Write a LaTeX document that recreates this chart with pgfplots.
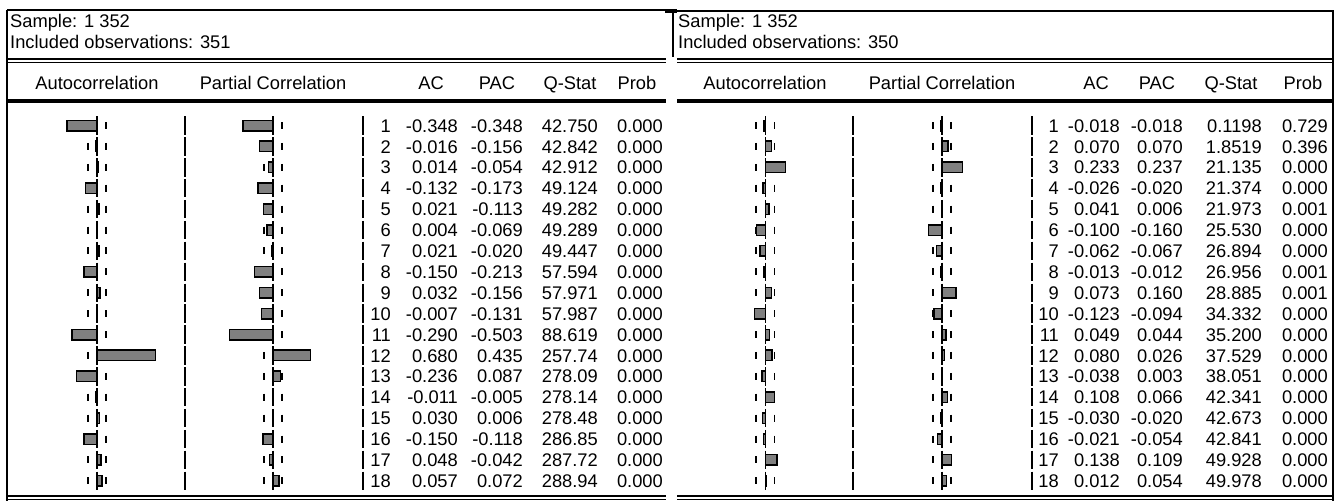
\documentclass[border=0pt]{standalone}
\usepackage{fontspec}
\setmainfont{Liberation Sans}
\usepackage{pgfplots}
\usepackage{pgfplotstable}
\pgfplotsset{compat=1.18}
\definecolor{barfill}{HTML}{808080}

\pgfplotstableread{
lag ac pac q p
1 -0.348 -0.348 42.750 0.000
2 -0.016 -0.156 42.842 0.000
3 0.014 -0.054 42.912 0.000
4 -0.132 -0.173 49.124 0.000
5 0.021 -0.113 49.282 0.000
6 0.004 -0.069 49.289 0.000
7 0.021 -0.020 49.447 0.000
8 -0.150 -0.213 57.594 0.000
9 0.032 -0.156 57.971 0.000
10 -0.007 -0.131 57.987 0.000
11 -0.290 -0.503 88.619 0.000
12 0.680 0.435 257.74 0.000
13 -0.236 0.087 278.09 0.000
14 -0.011 -0.005 278.14 0.000
15 0.030 0.006 278.48 0.000
16 -0.150 -0.118 286.85 0.000
17 0.048 -0.042 287.72 0.000
18 0.057 0.072 288.94 0.000
}\leftdata

\pgfplotstableread{
lag ac pac q p
1 -0.018 -0.018 0.1198 0.729
2 0.070 0.070 1.8519 0.396
3 0.233 0.237 21.135 0.000
4 -0.026 -0.020 21.374 0.000
5 0.041 0.006 21.973 0.001
6 -0.100 -0.160 25.530 0.000
7 -0.062 -0.067 26.894 0.000
8 -0.013 -0.012 26.956 0.001
9 0.073 0.160 28.885 0.001
10 -0.123 -0.094 34.332 0.000
11 0.049 0.044 35.200 0.000
12 0.080 0.026 37.529 0.000
13 -0.038 0.003 38.051 0.000
14 0.108 0.066 42.341 0.000
15 -0.030 -0.020 42.673 0.000
16 -0.021 -0.054 42.841 0.000
17 0.138 0.109 49.928 0.000
18 0.012 0.054 49.978 0.000
}\rightdata

\tikzset{
  mysep/.style={line width=1.3pt, dash pattern=on 18.4pt off 2.5pt, dash phase=19.65pt},
}
\pgfplotsset{
  myframe/.style={at={(670pt,250.5pt)}, anchor=center, width=1340pt, height=501pt,
    scale only axis, xmin=0, xmax=1340, ymin=0, ymax=501, y dir=reverse,
    hide axis, clip=false},
  mybars/.style={anchor=center, width=172pt, height=501pt, scale only axis,
    xmin=-1, xmax=1, ymin=-5.00478, ymax=18.9665, y dir=reverse,
    hide axis, clip=false},
  mytxt/.style={draw=none, mark=none, nodes near coords, point meta=explicit symbolic,
    nodes near coords align={anchor=base east},
    every node near coord/.append style={inner sep=0pt, text=black}},
  myband/.style={only marks, mark=|, mark size=3.5pt, line width=1.8pt, black},
  mybar/.style={xbar, bar width=10.5pt, fill=barfill, draw=black, line width=1.5pt},
}

\begin{document}
\begin{tikzpicture}[font=\fontsize{18.3}{22}\selectfont]
\begin{axis}[myframe]
  % left panel frame
  \draw[line width=2pt] (axis cs:7,10) -- (axis cs:7,501);
  \draw[line width=1.5pt] (axis cs:7,10) -- (axis cs:668,10);
  \fill[black] (axis cs:665,9) rectangle (axis cs:677,13);
  \draw[line width=1.2pt] (axis cs:7,59) -- (axis cs:666,59);
  \draw[line width=1.2pt] (axis cs:7,62.5) -- (axis cs:666,62.5);
  \draw[line width=4pt] (axis cs:7,101) -- (axis cs:666,101);
  \draw[line width=1.2pt] (axis cs:7,496) -- (axis cs:666,496);
  \draw[line width=1.2pt] (axis cs:7,499.5) -- (axis cs:666,499.5);
  % right panel frame
  \draw[line width=1.5pt] (axis cs:673,11) -- (axis cs:1334,11);
  \draw[line width=1.5pt] (axis cs:673,11) -- (axis cs:673,57);
  \draw[line width=1.2pt] (axis cs:677,59) -- (axis cs:1334,59);
  \draw[line width=1.2pt] (axis cs:677,62.5) -- (axis cs:1334,62.5);
  \draw[line width=4pt] (axis cs:677,101) -- (axis cs:1334,101);
  \draw[line width=1.2pt] (axis cs:677,496) -- (axis cs:1334,496);
  \draw[line width=1.2pt] (axis cs:677,499.5) -- (axis cs:1334,499.5);
  \draw[line width=2.5pt] (axis cs:1333,10) -- (axis cs:1333,501);
  % separators
  \draw[mysep] (axis cs:185,115.05) -- (axis cs:185,491.25);
  \draw[mysep] (axis cs:363,115.05) -- (axis cs:363,491.25);
  \draw[mysep] (axis cs:853,115.05) -- (axis cs:853,491.25);
  \draw[mysep] (axis cs:1032,115.05) -- (axis cs:1032,491.25);
  % header texts
  \node[anchor=base west, inner sep=0pt] at (axis cs:10,27.6) {Sample: 1 352};
  \node[anchor=base west, inner sep=0pt] at (axis cs:10,48.6) {Included observations: 351};
  \node[anchor=base west, inner sep=0pt] at (axis cs:678,27.6) {Sample: 1 352};
  \node[anchor=base west, inner sep=0pt] at (axis cs:678,48.6) {Included observations: 350};
  \node[anchor=base, inner sep=0pt] at (axis cs:97,89.6) {Autocorrelation};
  \node[anchor=base, inner sep=0pt] at (axis cs:273,89.6) {Partial Correlation};
  \node[anchor=base, inner sep=0pt] at (axis cs:431,89.6) {AC};
  \node[anchor=base, inner sep=0pt] at (axis cs:497,89.6) {PAC};
  \node[anchor=base, inner sep=0pt] at (axis cs:570,89.6) {Q-Stat};
  \node[anchor=base, inner sep=0pt] at (axis cs:637,89.6) {Prob};
  \node[anchor=base, inner sep=0pt] at (axis cs:765,89.6) {Autocorrelation};
  \node[anchor=base, inner sep=0pt] at (axis cs:942,89.6) {Partial Correlation};
  \node[anchor=base, inner sep=0pt] at (axis cs:1096,89.6) {AC};
  \node[anchor=base, inner sep=0pt] at (axis cs:1157,89.6) {PAC};
  \node[anchor=base, inner sep=0pt] at (axis cs:1231,89.6) {Q-Stat};
  \node[anchor=base, inner sep=0pt] at (axis cs:1303,89.6) {Prob};
  % table columns
  \addplot[mytxt] table[x expr=391, y expr=132.1+(\thisrow{lag}-1)*20.9, meta=lag]{\leftdata};
  \addplot[mytxt] table[x expr=458, y expr=132.1+(\thisrow{lag}-1)*20.9, meta=ac]{\leftdata};
  \addplot[mytxt] table[x expr=523, y expr=132.1+(\thisrow{lag}-1)*20.9, meta=pac]{\leftdata};
  \addplot[mytxt] table[x expr=598, y expr=132.1+(\thisrow{lag}-1)*20.9, meta=q]{\leftdata};
  \addplot[mytxt] table[x expr=663, y expr=132.1+(\thisrow{lag}-1)*20.9, meta=p]{\leftdata};
  \addplot[mytxt] table[x expr=1059, y expr=132.1+(\thisrow{lag}-1)*20.9, meta=lag]{\rightdata};
  \addplot[mytxt] table[x expr=1120, y expr=132.1+(\thisrow{lag}-1)*20.9, meta=ac]{\rightdata};
  \addplot[mytxt] table[x expr=1183, y expr=132.1+(\thisrow{lag}-1)*20.9, meta=pac]{\rightdata};
  \addplot[mytxt] table[x expr=1262, y expr=132.1+(\thisrow{lag}-1)*20.9, meta=q]{\rightdata};
  \addplot[mytxt] table[x expr=1328, y expr=132.1+(\thisrow{lag}-1)*20.9, meta=p]{\rightdata};
\end{axis}

% ---- confidence bands and zero lines (drawn first) ----
\begin{axis}[mybars, at={(97pt,250.5pt)}]
  \draw[mysep, line width=1.5pt] (axis cs:0,0.5) -- (axis cs:0,18.5);
  \addplot[myband] table[x expr=-0.1068, y=lag]{\leftdata};
  \addplot[myband] table[x expr=0.1068, y=lag]{\leftdata};
\end{axis}
\begin{axis}[mybars, at={(273pt,250.5pt)}]
  \draw[mysep, line width=1.5pt] (axis cs:0,0.5) -- (axis cs:0,18.5);
  \addplot[myband] table[x expr=-0.1068, y=lag]{\leftdata};
  \addplot[myband] table[x expr=0.1068, y=lag]{\leftdata};
\end{axis}
\begin{axis}[mybars, at={(765.3pt,250.5pt)}]
  \draw[mysep, line width=1.5pt] (axis cs:0,0.5) -- (axis cs:0,18.5);
  \addplot[myband] table[x expr=-0.1069, y=lag]{\rightdata};
  \addplot[myband] table[x expr=0.1069, y=lag]{\rightdata};
\end{axis}
\begin{axis}[mybars, at={(942pt,250.5pt)}]
  \draw[mysep, line width=1.5pt] (axis cs:0,0.5) -- (axis cs:0,18.5);
  \addplot[myband] table[x expr=-0.1069, y=lag]{\rightdata};
  \addplot[myband] table[x expr=0.1069, y=lag]{\rightdata};
\end{axis}

% ---- bars (on top) ----
\begin{axis}[mybars, at={(97pt,250.5pt)}]
  \addplot[mybar] table[x=ac, y=lag]{\leftdata};
\end{axis}
\begin{axis}[mybars, at={(273pt,250.5pt)}]
  \addplot[mybar] table[x=pac, y=lag]{\leftdata};
\end{axis}
\begin{axis}[mybars, at={(765.3pt,250.5pt)}]
  \addplot[mybar] table[x=ac, y=lag]{\rightdata};
\end{axis}
\begin{axis}[mybars, at={(942pt,250.5pt)}]
  \addplot[mybar] table[x=pac, y=lag]{\rightdata};
\end{axis}
\pgfresetboundingbox
\path (0,0) rectangle (1340pt,501pt);
\end{tikzpicture}
\end{document}
